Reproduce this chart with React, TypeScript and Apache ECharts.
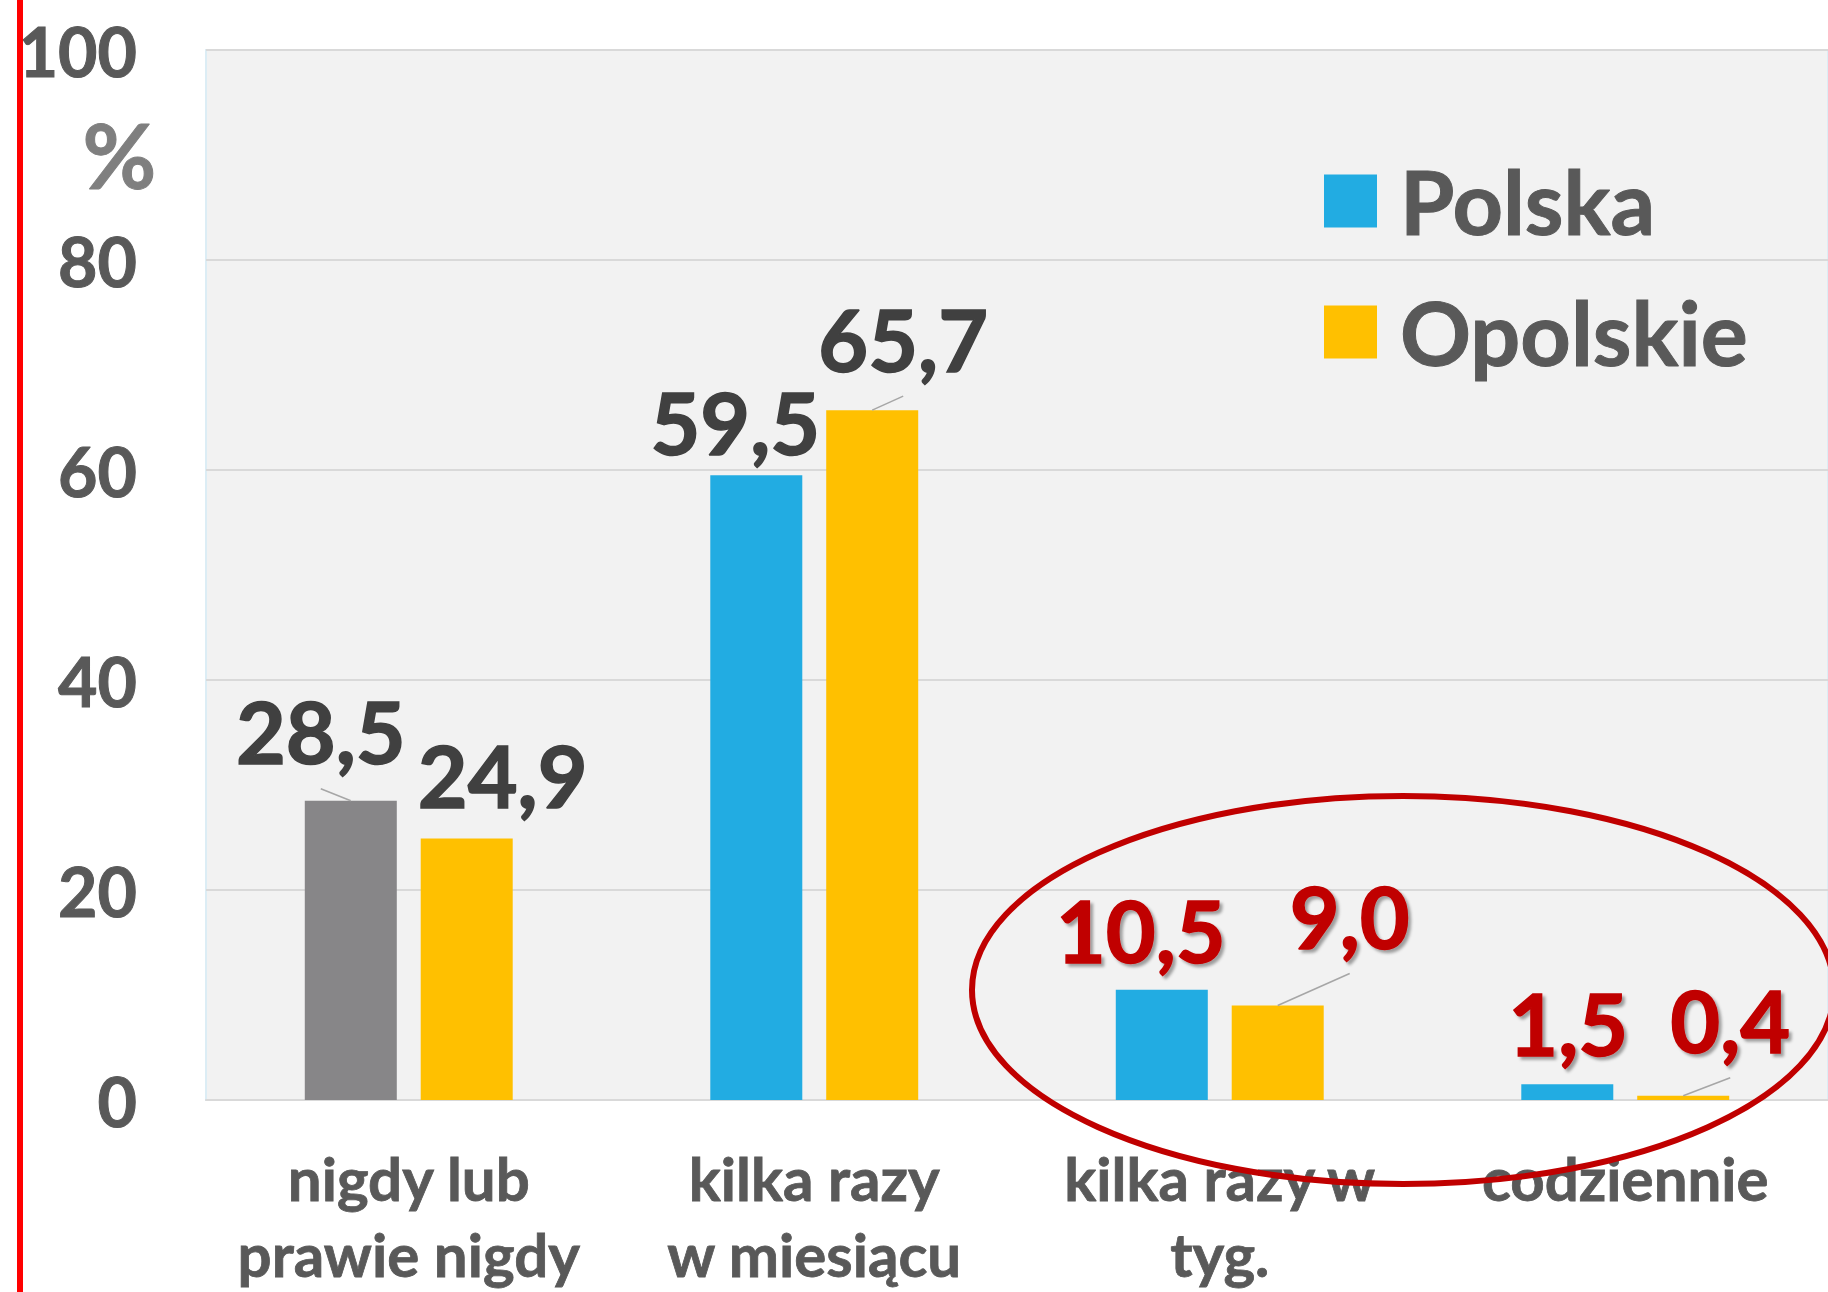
import React, { useEffect, useRef } from "react";
import * as echarts from "echarts";

// ---- data ----
const categories = ["nigdy lub\nprawie nigdy", "kilka razy\nw miesiącu", "kilka razy w\ntyg.", "codziennie"];
const seriesNames = ["Polska", "Opolskie"];
const polska = [28.5, 59.5, 10.5, 1.5];
const opolskie = [24.9, 65.7, 9.0, 0.4];
const yMin = 0;
const yMax = 100;
const yInterval = 20;
const highlightedCategories = [2, 3]; // circled in red
const greyPolskaIndex = 0; // first Polska bar drawn in grey

// ---- styles ----
const FONT = "Lato";
const BLUE = "#22ACE2";
const YELLOW = "#FFC000";
const GREY = "#878688";
const RED = "#C00000";
const DARK = "#404040";
const AXIS_TXT = "#595959";
const BAR_W = 92;
const BAR_GAP = 0.26;

// label displacement (px) per series / category, as in the original (moved labels with leader lines)
const labelShift = [
  [{ dx: -30, dy: -22 }, { dx: -21, dy: -6 }, { dx: -21, dy: -12 }, { dx: 1, dy: -14 }],
  [{ dx: 36, dy: -16 }, { dx: 31, dy: -24 }, { dx: 72, dy: -42 }, { dx: 47, dy: -28 }],
];
// which labels have a leader line in the original
const leader = [
  [true, false, false, false],
  [false, true, true, true],
];

const fmt = (v: number) => v.toFixed(1).replace(".", ",");

function makeData(values: number[], sIdx: number) {
  return values.map((v, i) => {
    const hi = highlightedCategories.includes(i);
    const item: any = {
      value: v,
      label: hi
        ? {
            color: RED,
            textBorderColor: RED,
            textBorderWidth: 1.5,
            textShadowColor: "rgba(0,0,0,0.35)",
            textShadowBlur: 3,
            textShadowOffsetX: 3,
            textShadowOffsetY: 3,
          }
        : { color: DARK, textBorderColor: DARK, textBorderWidth: 1.5 },
    };
    if (sIdx === 0 && i === greyPolskaIndex) item.itemStyle = { color: GREY };
    return item;
  });
}

export default function App() {
  const ref = useRef<HTMLDivElement>(null);
  useEffect(() => {
    if (!ref.current) return;
    const chart = echarts.init(ref.current, undefined, { renderer: "svg" });
    const labelCommon = {
      show: true,
      position: "top",
      fontFamily: FONT,
      fontWeight: "bold",
      fontSize: 86,
      formatter: (p: any) => fmt(p.value),
    };
    const labelLayout = (p: any) => {
      const s = labelShift[p.seriesIndex][p.dataIndex];
      return { dx: s.dx, dy: s.dy };
    };
    const allSeries = [polska, opolskie];
    const leaderData: number[][] = [];
    allSeries.forEach((vals, s) =>
      vals.forEach((v, i) => {
        if (leader[s][i]) leaderData.push([i, v, s]);
      })
    );
    const barOffset = (BAR_W * (1 + BAR_GAP)) / 2;
    chart.setOption({
      animation: false,
      backgroundColor: "#FFFFFF",
      grid: {
        left: 206,
        right: -6,
        top: 50,
        bottom: 185,
        show: true,
        backgroundColor: "#F2F2F2",
        borderColor: "#DCEDF5",
        borderWidth: 2,
      },
      legend: {
        orient: "vertical",
        left: 1324,
        top: 156,
        padding: 0,
        itemWidth: 53,
        itemHeight: 53,
        itemGap: 41,
        icon: "rect",
        data: seriesNames,
        textStyle: {
          fontFamily: FONT,
          fontWeight: "bold",
          fontSize: 88,
          lineHeight: 90,
          color: AXIS_TXT,
          textBorderColor: AXIS_TXT,
          textBorderWidth: 1,
          padding: [0, 0, 0, 18],
        },
      },
      xAxis: {
        type: "category",
        data: categories,
        axisTick: { show: false },
        axisLine: { lineStyle: { color: "#D9D9D9", width: 2 } },
        axisLabel: {
          interval: 0,
          margin: 40,
          fontFamily: FONT,
          fontWeight: "bold",
          fontSize: 60,
          lineHeight: 76,
          color: AXIS_TXT,
          textBorderColor: AXIS_TXT,
          textBorderWidth: 0.8,
        },
      },
      yAxis: {
        type: "value",
        min: yMin,
        max: yMax,
        interval: yInterval,
        axisLine: { show: false },
        axisTick: { show: false },
        splitLine: { lineStyle: { color: "#D9D9D9", width: 2 } },
        axisLabel: {
          margin: 69,
          fontFamily: FONT,
          fontWeight: "bold",
          fontSize: 68,
          color: AXIS_TXT,
          textBorderColor: AXIS_TXT,
          textBorderWidth: 1,
        },
      },
      series: [
        {
          name: seriesNames[0],
          type: "bar",
          data: makeData(polska, 0),
          itemStyle: { color: BLUE },
          barWidth: BAR_W,
          barGap: BAR_GAP * 100 + "%",
          label: labelCommon,
          labelLayout,
        },
        {
          name: seriesNames[1],
          type: "bar",
          data: makeData(opolskie, 1),
          itemStyle: { color: YELLOW },
          barWidth: BAR_W,
          barGap: BAR_GAP * 100 + "%",
          label: labelCommon,
          labelLayout,
        },
        {
          name: "leaders",
          type: "custom",
          silent: true,
          z: 5,
          data: leaderData,
          renderItem: (params: any, api: any) => {
            const ci = api.value(0);
            const v = api.value(1);
            const s = api.value(2);
            const p = api.coord([ci, v]);
            const x0 = p[0] + (s === 0 ? -barOffset : barOffset);
            const sh = labelShift[s][ci];
            return {
              type: "line",
              shape: { x1: x0, y1: p[1], x2: x0 + sh.dx, y2: p[1] + sh.dy + 10 },
              style: { stroke: "#A6A6A6", lineWidth: 1.5 },
            };
          },
        },
      ],
      graphic: [
        {
          type: "rect",
          left: 17,
          top: 0,
          shape: { width: 6, height: 1292 },
          style: { fill: "#FF0000" },
          z: 100,
        },
        {
          type: "text",
          left: 82,
          top: 108,
          style: {
            text: "%",
            fontFamily: FONT,
            fontWeight: "bold",
            fontSize: 90,
            fill: "#7F7F7F",
            stroke: "#7F7F7F",
            lineWidth: 1,
          },
          z: 100,
        },
        {
          type: "ellipse",
          shape: { cx: 1403, cy: 990, rx: 431, ry: 194 },
          style: { fill: "none", stroke: RED, lineWidth: 6 },
          z: 100,
        },
      ],
    });
    return () => chart.dispose();
  }, []);
  return (
    <div
      ref={ref}
      style={{ position: "fixed", left: 0, top: 0, width: 1828, height: 1292 }}
    />
  );
}
